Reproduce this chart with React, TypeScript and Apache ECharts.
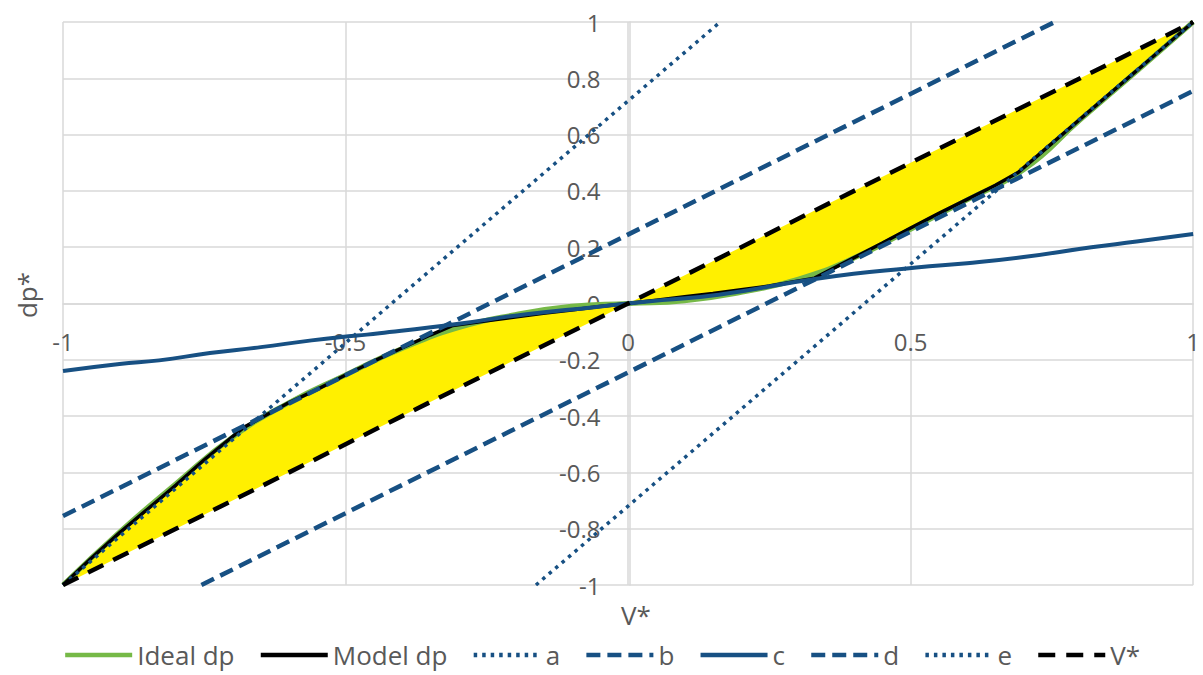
import React, { useEffect, useRef } from "react";
import * as echarts from "echarts";

// Model dp (piecewise)
const modelV = [-1, -0.95, -0.9, -0.85, -0.8, -0.75, -0.68, -0.6, -0.55, -0.5, -0.45, -0.4, -0.35, -0.31, -0.25, -0.2, -0.15, -0.1, -0.05, 0, 0.05, 0.1, 0.15, 0.2, 0.25, 0.33, 0.4, 0.45, 0.5, 0.55, 0.6, 0.65, 0.69, 0.75, 0.8, 0.85, 0.9, 0.95, 1];
const modelDp = [-1, -0.905, -0.815, -0.73, -0.645, -0.555, -0.44, -0.352, -0.305, -0.254, -0.205, -0.158, -0.112, -0.078, -0.061, -0.048, -0.035, -0.023, -0.011, 0, 0.012, 0.024, 0.036, 0.049, 0.062, 0.09, 0.163, 0.215, 0.268, 0.32, 0.37, 0.42, 0.465, 0.569, 0.655, 0.741, 0.827, 0.914, 1];

// Ideal dp (smooth)
const idealV = [-1, -0.9, -0.8, -0.7, -0.6, -0.5, -0.4, -0.3, -0.2, -0.1, 0, 0.1, 0.2, 0.3, 0.4, 0.5, 0.6, 0.7, 0.8, 0.9, 1];
const idealDp = [-1, -0.812, -0.64, -0.475, -0.352, -0.254, -0.16, -0.086, -0.04, -0.01, 0, 0.01, 0.04, 0.086, 0.162, 0.264, 0.368, 0.475, 0.652, 0.825, 1];

// straight reference lines
const aV = [-1, 0.163];
const aDp = [-1, 1];
const bV = [-1, 0.755];
const bDp = [-0.755, 1];
const dV = [-0.755, 1];
const dDp = [-1, 0.755];
const eV = [-0.163, 1];
const eDp = [-1, 1];
const vStarV = [-1, 1];
const vStarDp = [-1, 1];

// c (slightly wavy)
const cV = [-1, -0.9, -0.83, -0.74, -0.65, -0.56, -0.48, -0.44, -0.3, -0.18, -0.06, 0, 0.06, 0.16, 0.34, 0.51, 0.6, 0.7, 0.82, 0.9, 1];
const cDp = [-0.24, -0.215, -0.202, -0.176, -0.155, -0.131, -0.114, -0.106, -0.072, -0.038, -0.013, 0, 0.012, 0.031, 0.09, 0.128, 0.143, 0.165, 0.2, 0.22, 0.247];

const legendNames = ["Ideal dp", "Model dp", "a", "b", "c", "d", "e", "V*"];

const FONT = "'Open Sans', sans-serif";
const GRAY = "#595959";
const GRID = "#D9D9D9";
const BLUE = "#175083";

const pts = (xs: number[], ys: number[]) => xs.map((x, i) => [x, ys[i]]);

export default function App() {
  const ref = useRef<HTMLDivElement>(null);
  useEffect(() => {
    if (!ref.current) return;
    const chart = echarts.init(ref.current, undefined, { renderer: "svg" });
    const fillData = pts(modelV, modelDp);
    const gridTop = 22;
    const gridBottom = 90;
    const gridLeft = 63;
    const gridRight = 7;
    const plotH = 675 - gridTop - gridBottom;
    const plotW = 1203 - gridLeft - gridRight;
    const lineSeries = (name: string, xs: number[], ys: number[], color: string, width: number, type: any, smooth = false) => ({
      name,
      type: "line",
      data: pts(xs, ys),
      smooth,
      showSymbol: false,
      symbol: "none",
      symbolSize: 0,
      color,
      lineStyle: { color, width, type },
      z: 2,
    });
    const option: any = {
      animation: false,
      backgroundColor: "#fff",
      grid: { left: gridLeft, right: gridRight, top: gridTop, bottom: gridBottom, containLabel: false },
      xAxis: {
        type: "value",
        min: -1,
        max: 1,
        interval: 0.5,
        position: "bottom",
        offset: -plotH / 2,
        axisLine: { onZero: false, lineStyle: { color: GRID, width: 1.5 } },
        axisTick: { show: false },
        axisLabel: { color: GRAY, fontSize: 24, fontFamily: FONT, margin: 26 },
        splitLine: { show: true, lineStyle: { color: GRID, width: 1.5 } },
      },
      yAxis: {
        type: "value",
        min: -1,
        max: 1,
        interval: 0.2,
        position: "left",
        offset: -plotW / 2,
        axisLine: { onZero: false, lineStyle: { color: GRID, width: 1.5 } },
        axisTick: { show: false },
        axisLabel: { color: GRAY, fontSize: 24, fontFamily: FONT, margin: 29 },
        splitLine: { show: true, lineStyle: { color: GRID, width: 1.5 } },
      },
      legend: {
        data: legendNames,
        bottom: 2,
        left: "center",
        itemWidth: 67,
        itemHeight: 14,
        itemGap: 24,
        itemStyle: { opacity: 0 },
        lineStyle: { width: 4.5 },
        textStyle: { color: GRAY, fontSize: 26, fontFamily: FONT },
      },
      graphic: [
        {
          type: "text",
          x: 27,
          y: 295,
          rotation: Math.PI / 2,
          style: {
            text: "dp*",
            fill: GRAY,
            font: `26px ${FONT}`,
            textAlign: "center",
            textVerticalAlign: "middle",
            align: "center",
            verticalAlign: "middle",
          },
        },
        {
          type: "text",
          x: 636,
          y: 615,
          style: {
            text: "V*",
            fill: GRAY,
            font: `26px ${FONT}`,
            textAlign: "center",
            textVerticalAlign: "middle",
            align: "center",
            verticalAlign: "middle",
          },
        },
      ],
      series: [
        {
          name: "fill",
          type: "custom",
          data: fillData,
          encode: { x: 0, y: 1 },
          z: 1,
          renderItem: (params: any, api: any) => {
            if (params.dataIndex !== 0) return null;
            const poly = fillData.map((p) => api.coord(p));
            for (let i = vStarV.length - 1; i >= 0; i--) poly.push(api.coord([vStarV[i], vStarDp[i]]));
            return { type: "polygon", shape: { points: poly }, style: { fill: "#FFF000", stroke: "none" } };
          },
        },
        lineSeries("Ideal dp", idealV, idealDp, "#76B947", 5, "solid", true),
        lineSeries("Model dp", modelV, modelDp, "#000000", 3.5, "solid"),
        lineSeries("a", aV, aDp, BLUE, 3.5, [3.5, 5]),
        lineSeries("b", bV, bDp, BLUE, 4.5, [14, 7]),
        lineSeries("c", cV, cDp, BLUE, 4, "solid", true),
        lineSeries("d", dV, dDp, BLUE, 4.5, [14, 7]),
        lineSeries("e", eV, eDp, BLUE, 3.5, [3.5, 5]),
        lineSeries("V*", vStarV, vStarDp, "#000000", 4.5, [17, 11]),
      ],
    };
    chart.setOption(option);
    return () => chart.dispose();
  }, []);
  return <div ref={ref} style={{ width: 1203, height: 675, position: "absolute", left: 0, top: 0 }} />;
}
